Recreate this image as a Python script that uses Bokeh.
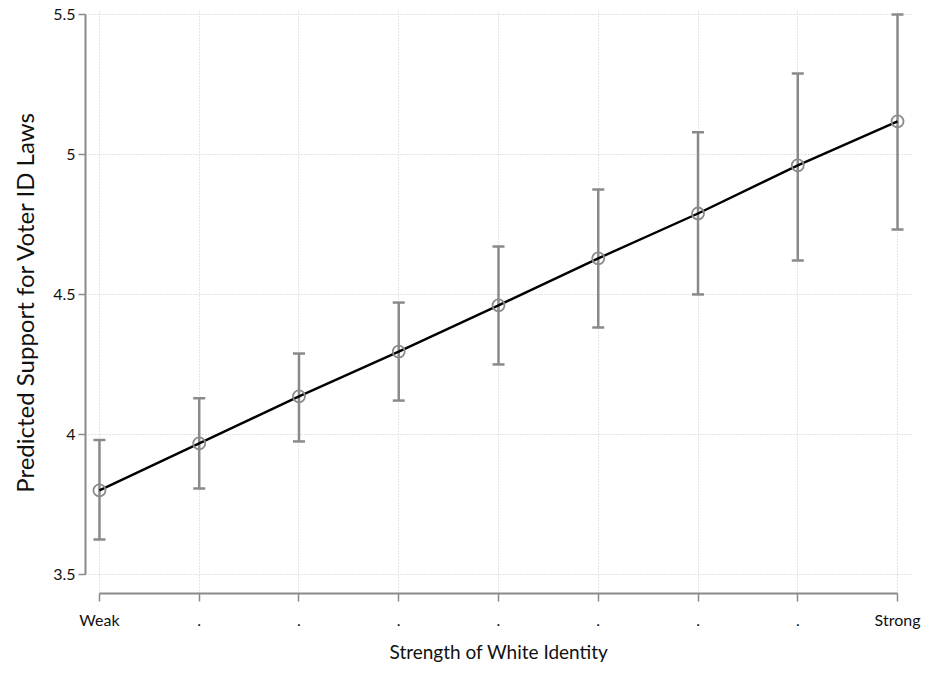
from bokeh.plotting import figure
from bokeh.models import ColumnDataSource, Whisker, TeeHead, Range1d, FixedTicker
from bokeh.embed import file_html
from bokeh.resources import INLINE

levels = [1, 2, 3, 4, 5, 6, 7, 8, 9]
tick_labels = ["Weak", ".", ".", ".", ".", ".", ".", ".", "Strong"]
predicted = [3.80, 3.968, 4.136, 4.296, 4.461, 4.629, 4.789, 4.961, 5.118]
ci_low = [3.625, 3.807, 3.975, 4.121, 4.25, 4.382, 4.50, 4.621, 4.732]
ci_high = [3.98, 4.129, 4.289, 4.471, 4.671, 4.875, 5.079, 5.289, 5.50]
y_ticks = [3.5, 4, 4.5, 5, 5.5]
y_tick_labels = ["3.5", "4", "4.5", "5", "5.5"]

FONT = "Lato"
GRAY = "#8a8a8a"

src = ColumnDataSource(dict(x=levels, y=predicted, lo=ci_low, hi=ci_high))

p = figure(width=921, height=665, output_backend="svg", toolbar_location=None,
           x_range=Range1d(0.860, 9.15), y_range=Range1d(3.432, 5.514),
           min_border_left=85, min_border_right=9, min_border_top=10, min_border_bottom=72)
p.outline_line_color = None
p.background_fill_color = "white"

for g in (p.xgrid, p.ygrid):
    g.grid_line_color = "#c8c8c8"
    g.grid_line_dash = "1 2"
    g.grid_line_width = 1

w = Whisker(source=src, base="x", lower="lo", upper="hi", line_color=GRAY, line_width=2.5,
            upper_head=TeeHead(size=12, line_color=GRAY, line_width=2.5),
            lower_head=TeeHead(size=12, line_color=GRAY, line_width=2.5))
p.add_layout(w)

p.line("x", "y", source=src, line_color="black", line_width=2.4)
p.scatter("x", "y", source=src, marker="circle", size=12, fill_alpha=0,
          line_color=GRAY, line_width=1.8)

p.xaxis.ticker = FixedTicker(ticks=levels)
p.xaxis.major_label_overrides = {lv: lb for lv, lb in zip(levels, tick_labels)}
p.xaxis.bounds = (levels[0], levels[-1])
p.xaxis.axis_label = "Strength of White Identity"
p.yaxis.ticker = FixedTicker(ticks=y_ticks)
p.yaxis.major_label_overrides = {t: l for t, l in zip(y_ticks, y_tick_labels)}
p.yaxis.bounds = (y_ticks[0], y_ticks[-1])
p.yaxis.axis_label = "Predicted Support for Voter ID Laws"

for ax in (p.xaxis[0], p.yaxis[0]):
    ax.axis_line_color = GRAY
    ax.axis_line_width = 2
    ax.major_tick_line_color = GRAY
    ax.major_tick_line_width = 1.5
    ax.major_tick_in = 0
    ax.minor_tick_line_color = None
    ax.major_label_text_font = FONT
    ax.major_label_text_font_size = "16px"
    ax.major_label_text_color = "#111111"
    ax.axis_label_text_font = FONT
    ax.axis_label_text_font_style = "normal"
    ax.axis_label_text_color = "#111111"

p.xaxis.axis_label_text_font_size = "19px"
p.yaxis.axis_label_text_font_size = "24px"
p.xaxis.major_tick_out = 8
p.xaxis.major_label_standoff = 8
p.xaxis.axis_label_standoff = 8
p.yaxis.major_tick_out = 7
p.yaxis.major_label_standoff = 3
p.yaxis.axis_label_standoff = 11
p.yaxis.major_label_orientation = "horizontal"

open("out.html", "w").write(file_html(p, INLINE))
